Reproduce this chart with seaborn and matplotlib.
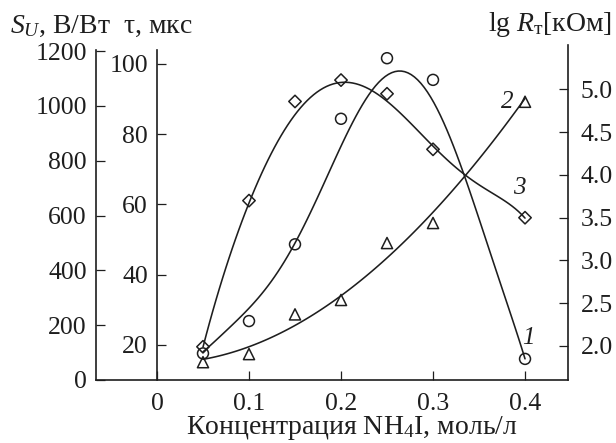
import numpy as np
import pandas as pd
import matplotlib
matplotlib.use("Agg")
import matplotlib.pyplot as plt
import seaborn as sns

conc = [0.05, 0.10, 0.15, 0.20, 0.25, 0.30, 0.40]          # моль/л
s_u = [97, 215, 495, 953, 1174, 1095, 77]                  # curve 1, S_U, В/Вт
tau = [15.1, 17.4, 28.7, 32.8, 49.0, 54.7, 89.2]           # curve 2, τ, мкс
lg_r = [1.99, 3.70, 4.86, 5.11, 4.95, 4.30, 3.50]          # curve 3, lg R_т

# ---- hand-drawn smooth curves ----
curve_x = [0.05, 0.075, 0.10, 0.125, 0.15, 0.175, 0.20, 0.225,
           0.25, 0.275, 0.30, 0.325, 0.35, 0.375, 0.40]
curve1_s = [103, 178, 262, 368, 495, 665, 860, 1020,
            1100, 1115, 1030, 820, 590, 335, 77]
curve3_r = [1.99, 2.90, 3.70, 4.26, 4.70, 4.96, 5.10, 5.04,
            4.87, 4.60, 4.32, 4.10, 3.90, 3.70, 3.50]
curve2_x = [0.05, 0.10, 0.15, 0.20, 0.25, 0.30, 0.35, 0.40]
curve2_t = [15.2, 20.7, 26.2, 32.8, 43.7, 58.5, 74.0, 89.5]

x_ticks = [0, 0.1, 0.2, 0.3, 0.4]
x_tick_labels = ["0", "0.1", "0.2", "0.3", "0.4"]
s_ticks = [0, 200, 400, 600, 800, 1000, 1200]
tau_ticks = [20, 40, 60, 80, 100]
r_ticks = [2.0, 2.5, 3.0, 3.5, 4.0, 4.5, 5.0]
r_tick_labels = ["2.0", "2.5", "3.0", "3.5", "4.0", "4.5", "5.0"]

sns.set_theme(style="ticks")
plt.rcParams['font.family'] = ['Liberation Serif', 'DejaVu Serif']
plt.rcParams['mathtext.fontset'] = 'custom'
plt.rcParams['mathtext.rm'] = 'Liberation Serif'
plt.rcParams['mathtext.it'] = 'Liberation Serif:italic'
plt.rcParams['mathtext.cal'] = 'Liberation Serif:italic'

INK = '#1e1e1e'
FS_TICK = 18.5
FS_LAB = 20

fig = plt.figure(figsize=(6.16, 4.43), dpi=100)
W, H = 616, 443
left_px, right_px, bot_px, top_px = 95.7, 568, 380, 45
ax = fig.add_axes([left_px / W, 1 - bot_px / H, (right_px - left_px) / W, (bot_px - top_px) / H])
ax_tau = ax.twinx()
ax_r = ax.twinx()

LW = 1.15
mk = dict(facecolors='none', edgecolors=INK, linewidths=1.1, alpha=1, zorder=3)

# smooth curves
sns.regplot(x=curve_x, y=curve1_s, order=7, ci=None, truncate=True, scatter=False,
            color=INK, ax=ax, line_kws=dict(lw=LW))
sns.regplot(x=curve2_x, y=curve2_t, order=3, ci=None, truncate=True, scatter=False,
            color=INK, ax=ax_tau, line_kws=dict(lw=LW))
sns.regplot(x=curve_x, y=curve3_r, order=6, ci=None, truncate=True, scatter=False,
            color=INK, ax=ax_r, line_kws=dict(lw=LW))
# measured points
sns.regplot(x=conc, y=s_u, fit_reg=False, ax=ax, marker='o', color=INK,
            scatter_kws=dict(s=62, **mk))
sns.regplot(x=conc, y=tau, fit_reg=False, ax=ax_tau, marker='^', color=INK,
            scatter_kws=dict(s=64, **mk))
sns.regplot(x=conc, y=lg_r, fit_reg=False, ax=ax_r, marker='D', color=INK,
            scatter_kws=dict(s=40, **mk))

xlim = (-0.0666, 0.4467)
for a in (ax, ax_tau, ax_r):
    a.set_xlim(*xlim)
    a.set_xlabel("")
    a.set_ylabel("")
    for sp in a.spines.values():
        sp.set_visible(False)
        sp.set_linewidth(1.2)
        sp.set_color(INK)

ax.set_ylim(0, (bot_px - top_px) / 0.2741)
ax_tau.set_ylim(20 - (bot_px - 345) / 3.51, 100 + (63.8 - top_px) / 3.51)
ax_r.set_ylim(2.0 - (bot_px - 345) / 87.8, 5.0 + (90.7 - top_px) / 87.8)

tick_kw = dict(direction='in', length=6.2, width=0.9, color=INK,
               labelsize=FS_TICK, labelcolor=INK)

# outer left axis (S_U)
ax.spines['left'].set_visible(True)
ax.spines['left'].set_bounds(0, (bot_px - 50) / 0.2741)
ax.spines['bottom'].set_visible(True)
ax.set_yticks(s_ticks)
ax.set_yticklabels([str(v) for v in s_ticks])
ax.set_xticks(x_ticks)
ax.set_xticklabels(x_tick_labels)
ax.tick_params(axis='y', pad=6.5, **tick_kw)
ax.tick_params(axis='x', pad=9, **tick_kw)

# inner axis (tau) placed at x = 0
ax_tau.yaxis.tick_left()
ax_tau.yaxis.set_label_position('left')
ax_tau.spines['left'].set_visible(True)
ax_tau.spines['left'].set_position(('data', 0))
ax_tau.spines['left'].set_bounds(ax_tau.get_ylim()[0], 100 + (63.8 - 50) / 3.51)
ax_tau.set_yticks(tau_ticks)
ax_tau.set_yticklabels([str(v) for v in tau_ticks])
ax_tau.tick_params(axis='y', pad=6.5, **tick_kw)

# right axis (lg R)
ax_r.spines['right'].set_visible(True)
ax_r.set_yticks(r_ticks)
ax_r.set_yticklabels(r_tick_labels)
ax_r.tick_params(axis='y', pad=9, **tick_kw)

# axis titles
fig.text(10 / W, 1 - 33 / H, r"$S_U$, В/Вт  τ, мкс", fontsize=FS_LAB, color=INK,
         ha='left', va='baseline')
fig.text(612 / W, 1 - 31 / H, r"lg $R_{\mathrm{т}}$[кОм]", fontsize=FS_LAB, color=INK,
         ha='right', va='baseline')
ax.set_xlabel("Концентрация NH$_4$I, моль/л", fontsize=FS_LAB, color=INK)
ax.xaxis.label.set_va('baseline')
ax.xaxis.set_label_coords((352 - left_px) / (right_px - left_px),
                          (bot_px - 434) / (bot_px - top_px))

# curve labels
def px_to_data(px, py):
    xd = xlim[0] + (px - left_px) / (right_px - left_px) * (xlim[1] - xlim[0])
    y0, y1 = ax.get_ylim()
    yd = y0 + (bot_px - py) / (bot_px - top_px) * (y1 - y0)
    return xd, yd

for lab, (px, py) in zip(["1", "2", "3"], [(528, 338), (507, 102), (519, 188)]):
    xd, yd = px_to_data(px, py)
    ax.text(xd, yd, lab, fontsize=18, style='italic', color=INK, ha='center', va='center')

fig.savefig("out.png", dpi=100)
